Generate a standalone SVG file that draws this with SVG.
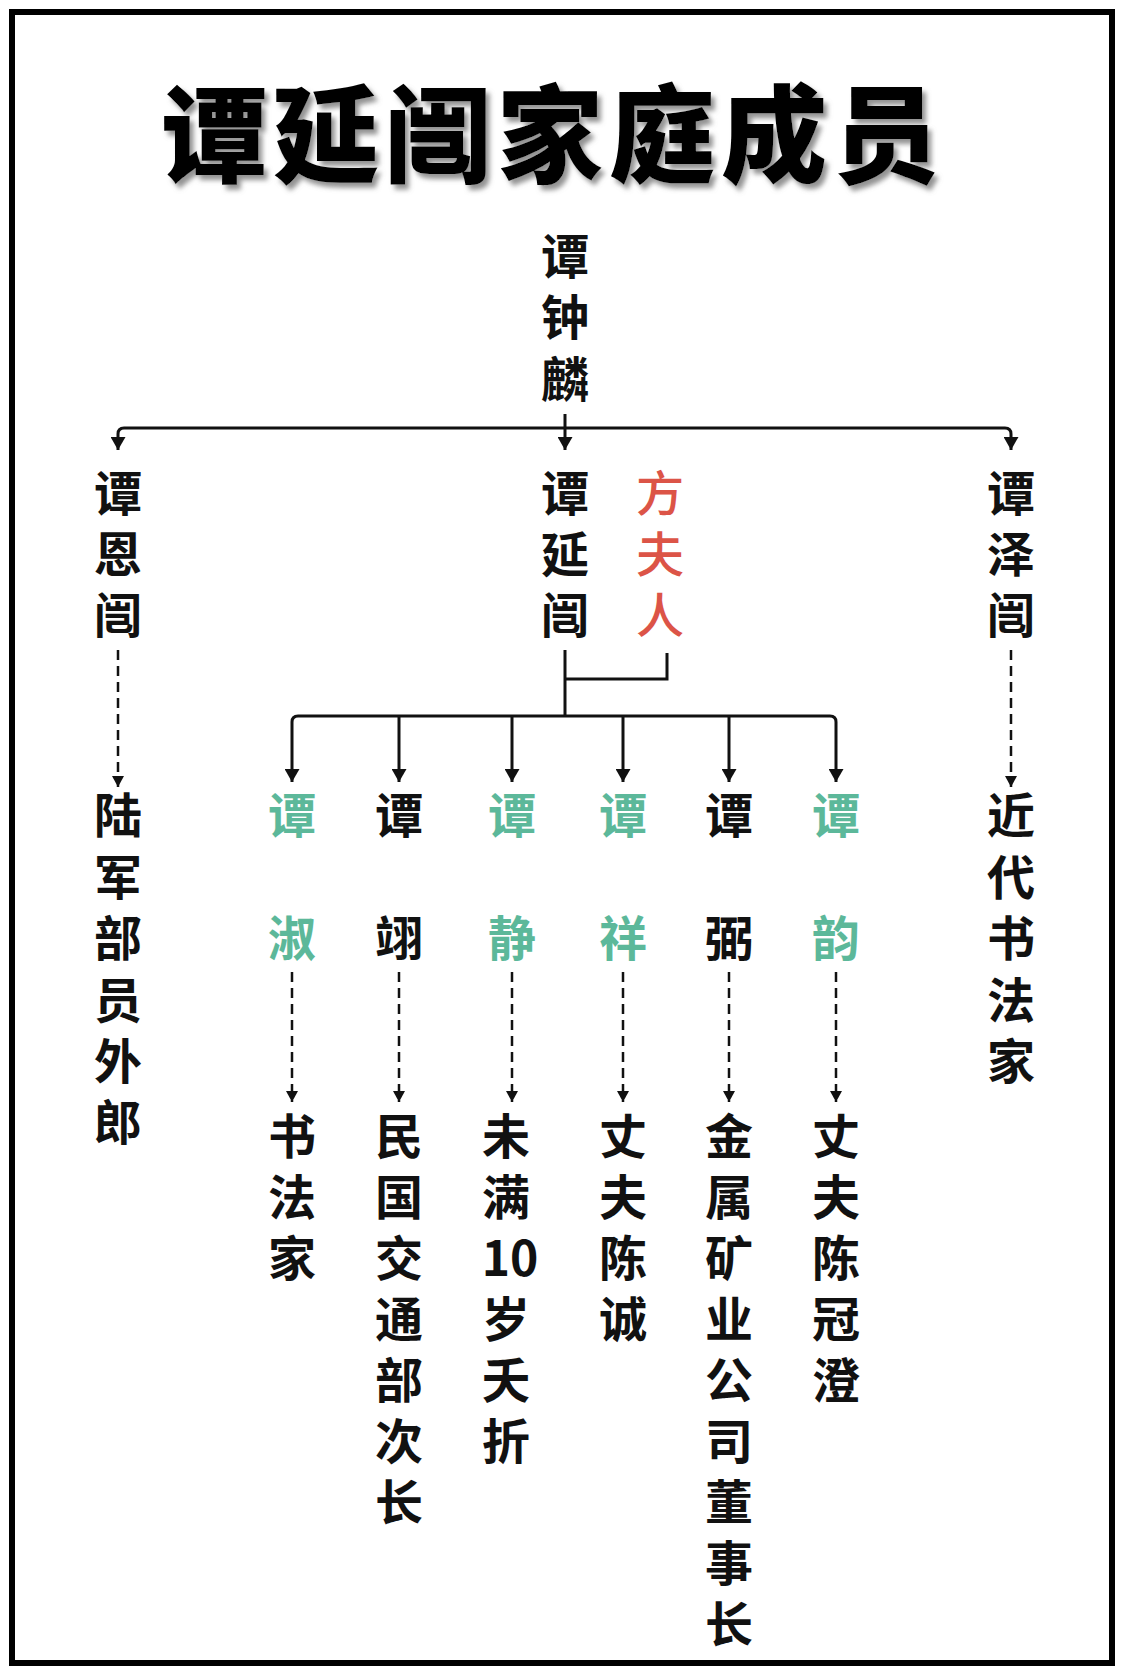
<svg xmlns="http://www.w3.org/2000/svg" width="1125" height="1678" viewBox="0 0 1125 1678">
<defs>
<style>
.t{font-family:"Noto Sans CJK SC","Noto Sans",sans-serif;font-size:48px;font-weight:700;fill:#111;text-anchor:middle;dominant-baseline:central}
.red{fill:#dc5447;font-weight:500}
.grn{fill:#5cb89a}
.ln{fill:none;stroke:#111;stroke-width:3}
.ds{fill:none;stroke:#111;stroke-width:2.5;stroke-dasharray:10 6}
.title{font-family:"Noto Sans CJK SC",sans-serif;font-size:106px;font-weight:900;fill:#000;text-anchor:middle;dominant-baseline:central}
</style>
<marker id="arr" viewBox="0 0 13 15" refX="13" refY="7.5" markerWidth="13" markerHeight="15" markerUnits="userSpaceOnUse" orient="auto">
<path d="M0,0 L13,7.5 L0,15 Z" fill="#111"/>
</marker>
<marker id="arr2" viewBox="0 0 11 12" refX="11" refY="6" markerWidth="11" markerHeight="12" markerUnits="userSpaceOnUse" orient="auto">
<path d="M0,0 L11,6 L0,12 Z" fill="#111"/>
</marker>
<filter id="sh" x="-10%" y="-10%" width="120%" height="130%">
<feDropShadow dx="4" dy="5" stdDeviation="2.5" flood-color="#777" flood-opacity="0.8"/>
</filter>
</defs>
<rect x="0" y="0" width="1125" height="1678" fill="#fff"/>
<rect x="12" y="12" width="1100" height="1651" fill="none" stroke="#000" stroke-width="6"/>

<g id="title" filter="url(#sh)">
<text class="title" x="214 326 438 550 662 774 886" y="128">谭延闿家庭成员</text>
</g>

<g transform="translate(0,-4)">
<g id="n-zhonglin"><text class="t"><tspan x="565" y="257">谭</tspan><tspan x="565" y="318">钟</tspan><tspan x="565" y="380">麟</tspan></text></g>
<g id="n-enkai"><text class="t"><tspan x="118" y="494">谭</tspan><tspan x="118" y="555">恩</tspan><tspan x="118" y="616">闿</tspan></text></g>
<g id="n-yankai"><text class="t"><tspan x="565" y="494">谭</tspan><tspan x="565" y="555">延</tspan><tspan x="565" y="616">闿</tspan></text></g>
<g id="n-fang"><text class="t red"><tspan x="660" y="494">方</tspan><tspan x="660" y="555">夫</tspan><tspan x="660" y="616">人</tspan></text></g>
<g id="n-zekai"><text class="t"><tspan x="1011" y="494">谭</tspan><tspan x="1011" y="555">泽</tspan><tspan x="1011" y="616">闿</tspan></text></g>

<g id="d-enkai"><text class="t"><tspan x="118" y="816">陆</tspan><tspan x="118" y="878">军</tspan><tspan x="118" y="939">部</tspan><tspan x="118" y="1001">员</tspan><tspan x="118" y="1062">外</tspan><tspan x="118" y="1123">郎</tspan></text></g>
<g id="d-zekai"><text class="t"><tspan x="1011" y="816">近</tspan><tspan x="1011" y="878">代</tspan><tspan x="1011" y="939">书</tspan><tspan x="1011" y="1001">法</tspan><tspan x="1011" y="1062">家</tspan></text></g>

<g id="c1"><text class="t grn"><tspan x="292" y="816">谭</tspan><tspan x="292" y="939">淑</tspan></text></g>
<g id="c2"><text class="t"><tspan x="399" y="816">谭</tspan><tspan x="399" y="939">翊</tspan></text></g>
<g id="c3"><text class="t grn"><tspan x="512" y="816">谭</tspan><tspan x="512" y="939">静</tspan></text></g>
<g id="c4"><text class="t grn"><tspan x="623" y="816">谭</tspan><tspan x="623" y="939">祥</tspan></text></g>
<g id="c5"><text class="t"><tspan x="729" y="816">谭</tspan><tspan x="729" y="939">弼</tspan></text></g>
<g id="c6"><text class="t grn"><tspan x="836" y="816">谭</tspan><tspan x="836" y="939">韵</tspan></text></g>

<g id="d1"><text class="t"><tspan x="292" y="1137">书</tspan><tspan x="292" y="1198">法</tspan><tspan x="292" y="1259">家</tspan></text></g>
<g id="d2"><text class="t"><tspan x="399" y="1137">民</tspan><tspan x="399" y="1198">国</tspan><tspan x="399" y="1259">交</tspan><tspan x="399" y="1320">通</tspan><tspan x="399" y="1381">部</tspan><tspan x="399" y="1442">次</tspan><tspan x="399" y="1503">长</tspan></text></g>
<g id="d3"><text class="t"><tspan x="506" y="1137">未</tspan><tspan x="506" y="1198">满</tspan><tspan x="510" y="1259">10</tspan><tspan x="506" y="1320">岁</tspan><tspan x="506" y="1381">夭</tspan><tspan x="506" y="1442">折</tspan></text></g>
<g id="d4"><text class="t"><tspan x="623" y="1137">丈</tspan><tspan x="623" y="1198">夫</tspan><tspan x="623" y="1259">陈</tspan><tspan x="623" y="1320">诚</tspan></text></g>
<g id="d5"><text class="t"><tspan x="729" y="1137">金</tspan><tspan x="729" y="1198">属</tspan><tspan x="729" y="1259">矿</tspan><tspan x="729" y="1320">业</tspan><tspan x="729" y="1381">公</tspan><tspan x="729" y="1442">司</tspan><tspan x="729" y="1503">董</tspan><tspan x="729" y="1564">事</tspan><tspan x="729" y="1625">长</tspan></text></g>
<g id="d6"><text class="t"><tspan x="836" y="1137">丈</tspan><tspan x="836" y="1198">夫</tspan><tspan x="836" y="1259">陈</tspan><tspan x="836" y="1320">冠</tspan><tspan x="836" y="1381">澄</tspan></text></g>
</g>

<g id="connectors">
<path class="ln" d="M565,414 L565,450" marker-end="url(#arr)"/>
<path class="ln" d="M565,428 L124,428 Q118,428 118,434 L118,450" marker-end="url(#arr)"/>
<path class="ln" d="M565,428 L1005,428 Q1011,428 1011,434 L1011,450" marker-end="url(#arr)"/>
<path class="ln" d="M565,650 L565,716"/>
<path class="ln" d="M565,679 L667,679 L667,653"/>
<path class="ln" d="M565,716 L298,716 Q292,716 292,722 L292,782" marker-end="url(#arr)"/>
<path class="ln" d="M565,716 L830,716 Q836,716 836,722 L836,782" marker-end="url(#arr)"/>
<path class="ln" d="M399,716 L399,782" marker-end="url(#arr)"/>
<path class="ln" d="M512,716 L512,782" marker-end="url(#arr)"/>
<path class="ln" d="M623,716 L623,782" marker-end="url(#arr)"/>
<path class="ln" d="M729,716 L729,782" marker-end="url(#arr)"/>
<path class="ds" d="M118,650 L118,787" marker-end="url(#arr2)"/>
<path class="ds" d="M1011,650 L1011,787" marker-end="url(#arr2)"/>
<path class="ds" d="M292,972 L292,1102" marker-end="url(#arr2)"/>
<path class="ds" d="M399,972 L399,1102" marker-end="url(#arr2)"/>
<path class="ds" d="M512,972 L512,1102" marker-end="url(#arr2)"/>
<path class="ds" d="M623,972 L623,1102" marker-end="url(#arr2)"/>
<path class="ds" d="M729,972 L729,1102" marker-end="url(#arr2)"/>
<path class="ds" d="M836,972 L836,1102" marker-end="url(#arr2)"/>
</g>
</svg>
